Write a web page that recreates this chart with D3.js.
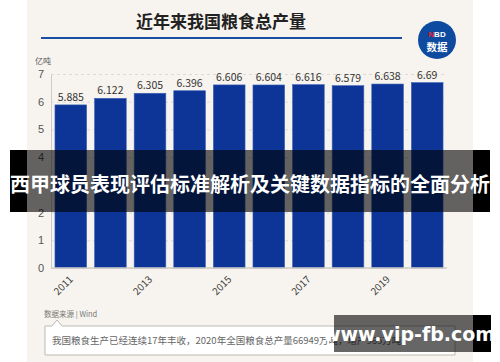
<!DOCTYPE html>
<html>
<head>
<meta charset="utf-8">
<script src="https://cdn.jsdelivr.net/npm/d3@7"></script>
<style>
  body { margin: 0; background: #fff; }
  svg { display: block; font-family: "Noto Sans CJK SC", "Noto Sans", sans-serif; }
</style>
</head>
<body>
<div id="chart"></div>
<script>
// data
const years = ['2011', '2012', '2013', '2014', '2015', '2016', '2017', '2018', '2019', '2020'];
const output = [5.885, 6.122, 6.305, 6.396, 6.606, 6.604, 6.616, 6.579, 6.638, 6.69];
const yTicks = [0, 1, 2, 3, 4, 5, 6, 7];
const shownYears = ['2011', '2013', '2015', '2017', '2019'];

const W = 500, H = 362;
const margin = { top: 74, right: 53, bottom: 94, left: 51 };
const width = W - margin.left - margin.right;
const height = H - margin.top - margin.bottom;

const svg = d3.select('#chart').append('svg')
    .attr('width', W)
    .attr('height', H);

// beige card behind the chart
svg.append('rect')
    .attr('x', 27).attr('y', 0)
    .attr('width', 446).attr('height', H)
    .attr('fill', '#f7f4ef');

// title + rule + logo
svg.append('text')
    .attr('x', 221).attr('y', 28)
    .attr('text-anchor', 'middle')
    .attr('font-size', 17).attr('font-weight', 'bold')
    .attr('fill', '#222')
    .text('近年来我国粮食总产量');
svg.append('rect')
    .attr('x', 41).attr('y', 37)
    .attr('width', 361).attr('height', 2)
    .attr('fill', '#1a4ea3');

const logo = svg.append('g').attr('transform', 'translate(437,40)');
logo.append('circle').attr('r', 19).attr('fill', '#0e4aa0');
const nbd = logo.append('text')
    .attr('y', -3).attr('text-anchor', 'middle')
    .attr('font-size', 8).attr('font-weight', 'bold')
    .attr('font-family', 'Liberation Sans, Arial, sans-serif');
nbd.append('tspan').attr('fill', '#e8222f').text('N');
nbd.append('tspan').attr('fill', '#fff').text('BD');
logo.append('text')
    .attr('y', 11).attr('text-anchor', 'middle')
    .attr('font-size', 10.5).attr('font-weight', 'bold')
    .attr('fill', '#fff')
    .text('数据');

const g = svg.append('g')
    .attr('transform', 'translate(' + margin.left + ',' + margin.top + ')');

const x = d3.scaleBand()
    .domain(years)
    .range([0, width])
    .paddingInner(0.2)
    .paddingOuter(0.1);
const y = d3.scaleLinear().domain([0, 7]).range([height, 0]);

// grid
g.append('g')
    .call(d3.axisLeft(y).tickValues(yTicks).tickSize(-width).tickFormat(''))
    .call(a => a.select('.domain').remove())
    .selectAll('line')
    .attr('stroke', '#dedad3')
    .attr('stroke-dasharray', '3,3');

// y labels
g.append('g')
    .call(d3.axisLeft(y).tickValues(yTicks).tickSize(0).tickPadding(7).tickFormat(d3.format('d')))
    .call(a => a.select('.domain').attr('stroke', '#cfccc6'))
    .selectAll('text')
    .attr('font-size', 11)
    .attr('fill', '#555');

svg.append('text')
    .attr('x', 43).attr('y', 64)
    .attr('text-anchor', 'middle')
    .attr('font-size', 8).attr('fill', '#555')
    .text('亿吨');

// bars
g.selectAll('.bar')
    .data(output)
    .enter()
    .append('rect')
    .attr('class', 'bar')
    .attr('x', (d, i) => x(years[i]))
    .attr('y', d => y(d))
    .attr('width', x.bandwidth())
    .attr('height', d => y(0) - y(d))
    .attr('fill', '#0c3597')
    .attr('stroke', '#3f62b8')
    .attr('stroke-width', 0.6);

g.selectAll('.val')
    .data(output)
    .enter()
    .append('text')
    .attr('class', 'val')
    .attr('x', (d, i) => x(years[i]) + x.bandwidth() / 2)
    .attr('y', d => y(d) - 4)
    .attr('text-anchor', 'middle')
    .attr('font-size', 10.5)
    .attr('fill', '#333')
    .text(d => d);

// x axis baseline + rotated years
g.append('line')
    .attr('x1', 0).attr('x2', width)
    .attr('y1', height).attr('y2', height)
    .attr('stroke', '#cfccc6').attr('stroke-width', 1.5);

g.selectAll('.yr')
    .data(shownYears)
    .enter()
    .append('text')
    .attr('class', 'yr')
    .attr('transform', d => 'translate(' + (x(d) + x.bandwidth() / 2 + 3) + ',' + (height + 12) + ') rotate(-45)')
    .attr('text-anchor', 'end')
    .attr('font-size', 10)
    .attr('fill', '#444')
    .text(d => d);

// source + note box
svg.append('text')
    .attr('x', 44).attr('y', 317)
    .attr('font-size', 7.5).attr('fill', '#777')
    .text('数据来源 | Wind');
svg.append('path')
    .attr('d', 'M45,326 H52 L57,320 L62,326 H455 V355 H45 Z')
    .attr('fill', '#fff')
    .attr('stroke', '#bdbab4');
svg.append('text')
    .attr('x', 52).attr('y', 344)
    .attr('font-size', 9.5).attr('fill', '#666')
    .text('我国粮食生产已经连续17年丰收，2020年全国粮食总产量66949万吨，增产565万吨');

// overlay band with caption (chart shows through, dimmed)
svg.append('rect')
    .attr('x', 10).attr('y', 150).attr('width', 17).attr('height', 62)
    .attr('fill', '#000');
svg.append('rect')
    .attr('x', 473).attr('y', 150).attr('width', 17).attr('height', 62)
    .attr('fill', '#000');
svg.append('rect')
    .attr('x', 27).attr('y', 150).attr('width', 446).attr('height', 62)
    .attr('fill', 'rgba(0,0,0,0.6)');
svg.append('text')
    .attr('x', 250).attr('y', 192)
    .attr('text-anchor', 'middle')
    .attr('font-size', 20).attr('font-weight', 'bold')
    .attr('fill', '#fff')
    .text('西甲球员表现评估标准解析及关键数据指标的全面分析');

// site watermark
svg.append('rect')
    .attr('x', 334).attr('y', 315).attr('width', 139).attr('height', 37)
    .attr('fill', 'rgba(0,0,0,0.6)');
svg.append('rect')
    .attr('x', 473).attr('y', 315).attr('width', 18).attr('height', 37)
    .attr('fill', '#000');
svg.append('text')
    .attr('x', 409).attr('y', 341)
    .attr('text-anchor', 'middle')
    .attr('font-size', 19).attr('font-weight', 'bold')
    .attr('font-family', 'DejaVu Sans, sans-serif')
    .attr('fill', '#fff')
    .text('www.vip-fb.com');
</script>
</body>
</html>
